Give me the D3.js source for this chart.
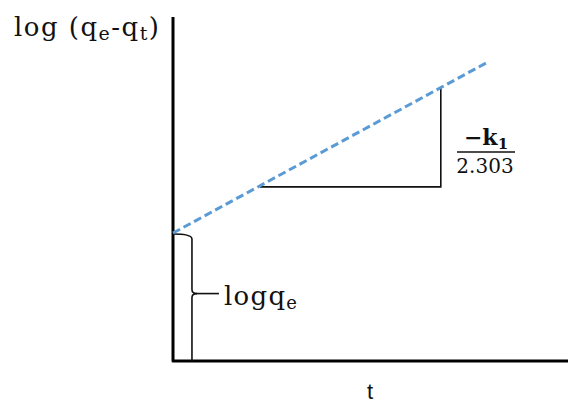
<!DOCTYPE html>
<html>
<head>
<meta charset="utf-8">
<script src="https://cdn.jsdelivr.net/npm/d3@7"></script>
<style>
  html, body { margin: 0; padding: 0; background: #fff; }
  svg { display: block; }
  .lbl { font-family: "DejaVu Serif", "Liberation Serif", serif; fill: #111; }
</style>
</head>
<body>
<svg id="chart" width="568" height="403"></svg>
<script>
// Pseudo-first-order kinetics: log(qe - qt) against t (schematic)
const tDomain = [0, 10];
const logDomain = [0, 10];
const lineT = [0, 7.97];          // start and end of the fitted line
const lineLog = [3.72, 8.69];     // log(qe - qt) at those times
const slopeT = [2.2, 6.78];       // run of the slope triangle
const yAxisLabel = ["log (q", "e", "-q", "t", ")"];
const xAxisLabel = "t";
const interceptLabel = ["logq", "e"];
const slopeNumerator = ["\u2212k", "1"];
const slopeDenominator = "2.303";

const svg = d3.select("#chart");
const x = d3.scaleLinear().domain(tDomain).range([173, 568]);
const y = d3.scaleLinear().domain(logDomain).range([361, 17]);

const slope = (lineLog[1] - lineLog[0]) / (lineT[1] - lineT[0]);
const fit = t => lineLog[0] + slope * t;

// axes: plain L-shaped frame
svg.append("path")
  .attr("d", `M${x(0)},${y(logDomain[1])} V${y(0)} H${x(tDomain[1])}`)
  .attr("fill", "none").attr("stroke", "#000").attr("stroke-width", 3)
  .attr("stroke-linejoin", "round");

// curly bracket marking the intercept log qe
const bx = x(0.48);
const yTop = y(lineLog[0]) + 1;
const yMid = y(lineLog[0] * 0.5 + 0.1);
const brace = d3.path();
brace.moveTo(x(0), yTop);
brace.quadraticCurveTo(bx, yTop, bx, yTop + 5);
brace.lineTo(bx, yMid - 4);
brace.quadraticCurveTo(bx, yMid, bx + 5, yMid);
brace.quadraticCurveTo(bx, yMid, bx, yMid + 4);
brace.lineTo(bx, y(0));
svg.append("path")
  .attr("d", brace.toString())
  .attr("fill", "none").attr("stroke", "#111").attr("stroke-width", 1.6);
svg.append("line")
  .attr("x1", bx + 4).attr("x2", bx + 27)
  .attr("y1", yMid).attr("y2", yMid)
  .attr("stroke", "#111").attr("stroke-width", 1.6);

// slope triangle
svg.append("path")
  .attr("d", `M${x(slopeT[0])},${y(fit(slopeT[0])) + 1} H${x(slopeT[1])} V${y(fit(slopeT[1]))}`)
  .attr("fill", "none").attr("stroke", "#111").attr("stroke-width", 1.6);

// fitted line
svg.append("line")
  .attr("x1", x(lineT[0])).attr("y1", y(lineLog[0]))
  .attr("x2", x(lineT[1])).attr("y2", y(lineLog[1]))
  .attr("stroke", "#5b9bd5").attr("stroke-width", 3)
  .attr("stroke-dasharray", "8,4");

// y-axis title with subscripts
const yt = svg.append("text").attr("class", "lbl")
  .attr("x", 14).attr("y", 36).attr("font-size", 26)
  .attr("textLength", 145).attr("lengthAdjust", "spacing");
yAxisLabel.forEach((s, i) => {
  const sub = i % 2 === 1;
  yt.append("tspan").text(s)
    .attr("font-size", sub ? 19 : 26)
    .attr("dy", sub ? 4 : (i > 0 ? -4 : 0));
});

// x-axis title
svg.append("text")
  .attr("x", 370).attr("y", 399)
  .attr("text-anchor", "middle")
  .attr("font-family", "Liberation Sans, Arial, sans-serif")
  .attr("font-size", 22).attr("fill", "#111")
  .text(xAxisLabel);

// intercept label
const it = svg.append("text").attr("class", "lbl")
  .attr("x", 224).attr("y", 305).attr("font-size", 26)
  .attr("textLength", 73).attr("lengthAdjust", "spacing");
it.append("tspan").text(interceptLabel[0]);
it.append("tspan").text(interceptLabel[1]).attr("font-size", 18).attr("dy", 4);

// slope fraction
const fx = 486;
const nt = svg.append("text").attr("class", "lbl")
  .attr("x", fx).attr("y", 145).attr("text-anchor", "middle")
  .attr("font-size", 22).attr("font-weight", 600);
nt.append("tspan").text(slopeNumerator[0]);
nt.append("tspan").text(slopeNumerator[1]).attr("font-size", 15).attr("dy", 4);
svg.append("line")
  .attr("x1", fx - 29).attr("x2", fx + 29)
  .attr("y1", 152).attr("y2", 152)
  .attr("stroke", "#111").attr("stroke-width", 1.4);
svg.append("text").attr("class", "lbl")
  .attr("x", fx - 1).attr("y", 173).attr("text-anchor", "middle")
  .attr("font-size", 20)
  .text(slopeDenominator);
</script>
</body>
</html>
